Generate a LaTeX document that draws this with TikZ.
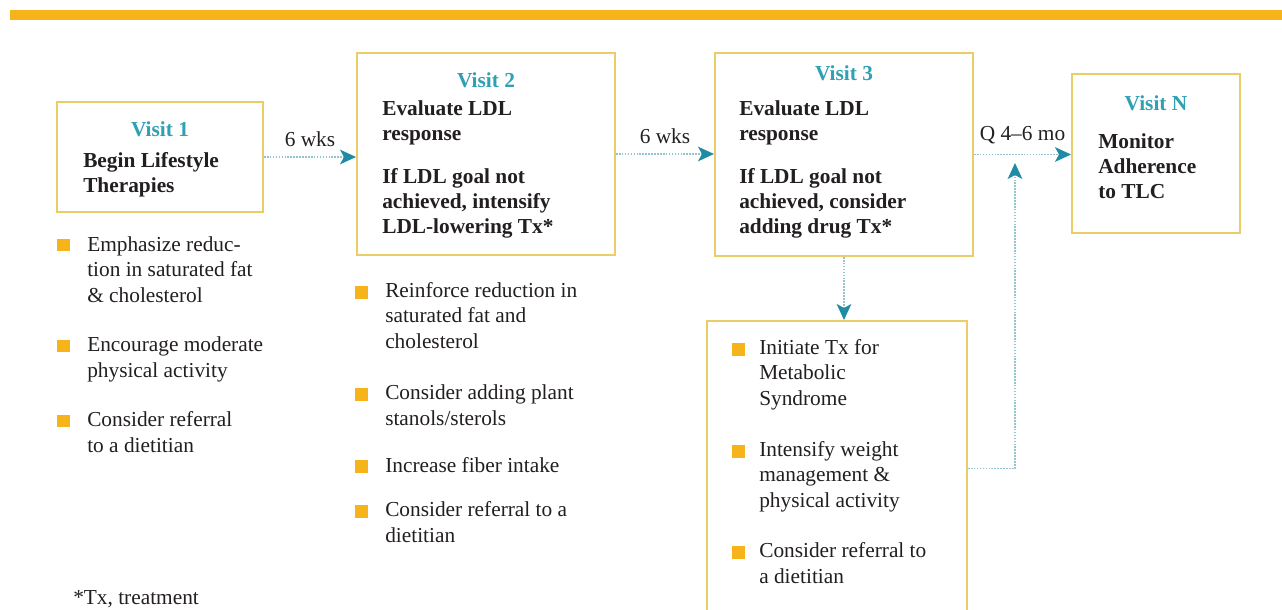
\documentclass[tikz,border=0pt]{standalone}
\usepackage{fontspec}
\setmainfont{Liberation Serif}
\usetikzlibrary{arrows.meta,positioning}
\definecolor{barorange}{RGB}{246,180,26}
\definecolor{boxgold}{RGB}{234,204,104}
\definecolor{visitteal}{RGB}{48,160,180}
\definecolor{tipteal}{RGB}{30,140,165}
\definecolor{dotblue}{RGB}{150,195,208}
\definecolor{inkgray}{RGB}{35,31,32}
\tikzset{
  visitbox/.style={draw=boxgold,line width=1.5pt,inner sep=0pt},
  visittitle/.style={anchor=base,inner sep=0pt,text=visitteal,font=\fontsize{16}{18.75}\selectfont\bfseries},
  visitbody/.style={anchor=base west,align=left,inner sep=0pt,text=inkgray,font=\fontsize{16}{18.75}\selectfont\bfseries},
  bul/.style={fill=barorange,minimum size=9.5pt,inner sep=0pt},
  itm/.style={anchor=base west,align=left,inner sep=0pt,text=inkgray,font=\fontsize{16}{18.9}\selectfont},
  gap/.style={above=7.5pt,inner sep=0pt,text=inkgray,font=\fontsize{16}{18.9}\selectfont},
  link/.style={draw=dotblue,line width=1.1pt,dash pattern=on 1.2pt off 1pt,
    -{Stealth[length=12pt,width=11pt,inset=3pt,color=tipteal]}},
}
\begin{document}
\begin{tikzpicture}[x=0.75pt,y=-0.75pt]
   \useasboundingbox (0,0) rectangle (1282,610);
   \fill[white] (0,0) rectangle (1282,610);
   \fill[barorange] (10,10) rectangle (1282,20);
   \node[visitbox,minimum width=154.5pt,minimum height=82.5pt] (v1) at (160,157) {};
   \node[visitbox,minimum width=193.5pt,minimum height=151.5pt] (v2) at (486,154) {};
   \node[visitbox,minimum width=193.5pt,minimum height=152.25pt] (v3) at (844,154.5) {};
   \node[visitbox,minimum width=126pt,minimum height=119.25pt] (vn) at (1156,153.5) {};
   \node[visitbox,minimum width=195pt,minimum height=221.25pt] (v3list) at (837,468.5) {};
   \node[visittitle] (v1t) at (160,137) {Visit 1};
   \node[visittitle] (v2t) at (486,88) {Visit 2};
   \node[visittitle] (v3t) at (844,81) {Visit 3};
   \node[visittitle] (vnt) at (1156,110) {Visit N};
   \node[visitbody] (v1b) at (83,192) {Begin Lifestyle\\Therapies};
   \node[visitbody] (v2b) at (382,233) {Evaluate LDL\\response\\[13.5pt]If LDL goal not\\achieved, intensify\\LDL-lowering Tx*};
   \node[visitbody] (v3b) at (739,233) {Evaluate LDL\\response\\[13.5pt]If LDL goal not\\achieved, consider\\adding drug Tx*};
   \node[visitbody] (vnb) at (1098,198) {Monitor\\Adherence\\to TLC};
   \coordinate (qjoin) at (1015,163);
   \draw[link] (v1.east) -- (v1.east -| v2.west) node[midway,gap] (w1) {6 wks};
   \draw[link] (v2.east) -- (v2.east -| v3.west) node[midway,gap] (w2) {6 wks};
   \draw[link] (v3.east) -- (v3.east -| vn.west) node[midway,gap] (wn) {Q 4–6 mo};
   \draw[link] (v3.south) -- (v3.south |- v3list.north);
   \draw[link] (v3list.east) -| (qjoin);
   \foreach \k/\x/\y in
     {11/63.5/245, 12/63.5/346, 13/63.5/421,
      21/361.5/292.5, 22/361.5/394.5, 23/361.5/466.5, 24/361.5/511.5,
      31/738.5/349.5, 32/738.5/451.5, 33/738.5/552.5}
     \node[bul] (b\k) at (\x,\y) {};
   \node[itm] (t11) at (87,302) {Emphasize reduc-\\tion in saturated fat\\\& cholesterol};
   \node[itm] (t12) at (87,377) {Encourage moderate\\physical activity};
   \node[itm] (t13) at (87,452) {Consider referral\\to a dietitian};
   \node[itm] (t21) at (385,348) {Reinforce reduction in\\saturated fat and\\cholesterol};
   \node[itm] (t22) at (385,425) {Consider adding plant\\stanols/sterols};
   \node[itm] (t23) at (385,472) {Increase fiber intake};
   \node[itm] (t24) at (385,542) {Consider referral to a\\dietitian};
   \node[itm] (t31) at (759,405) {Initiate Tx for\\Metabolic\\Syndrome};
   \node[itm] (t32) at (759,507) {Intensify weight\\management \&\\physical activity};
   \node[itm] (t33) at (759,583) {Consider referral to\\a dietitian};
   \node[itm] (note) at (73,604) {*Tx, treatment};
\end{tikzpicture}
\end{document}
